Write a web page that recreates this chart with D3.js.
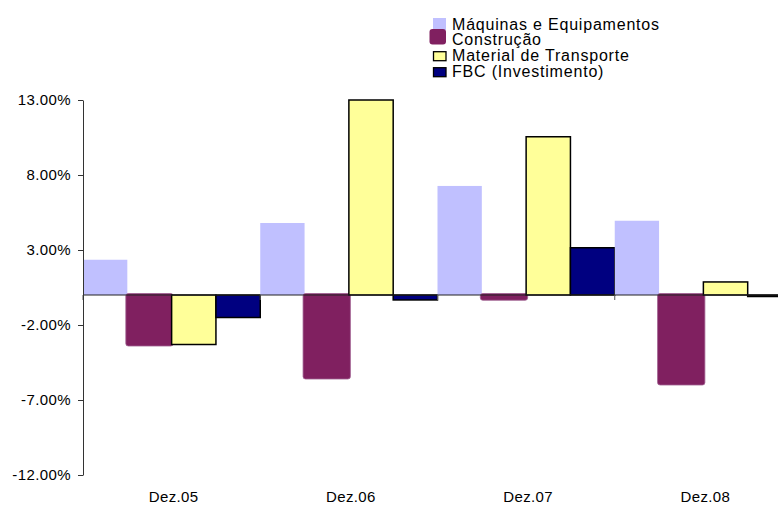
<!DOCTYPE html>
<html><head><meta charset="utf-8">
<script src="https://cdn.jsdelivr.net/npm/d3@7"></script>
<style>
body{margin:0;background:#fff;}
svg{display:block;font-family:"Liberation Sans",Arial,sans-serif;letter-spacing:0.4px;}
</style></head><body>
<svg id="c" width="778" height="505"></svg>
<script>
const categories = ["Dez.05","Dez.06","Dez.07","Dez.08"];
const seriesNames = ["Máquinas e Equipamentos","Construção","Material de Transporte","FBC (Investimento)"];
const maquinas = [2.35, 4.8, 7.27, 4.95];
const construcao = [-3.3, -5.5, -0.25, -5.9];
const material = [-3.3, 13.0, 10.55, 0.87];
const fbc = [-1.5, -0.33, 3.15, -0.1];
const yTicks = [-12, -7, -2, 3, 8, 13];

const seriesValues = [maquinas, construcao, material, fbc];
const colors = ["#C0C0FF", "#802060", "#FFFF99", "#000080"];

const svg = d3.select("#c");
const x0 = d3.scaleBand().domain(categories).range([83, 792]).padding(0);
const x1 = d3.scaleBand().domain(seriesNames).range([0, x0.bandwidth()]).padding(0);
const y = d3.scaleLinear().domain([-12, 13]).range([475, 100]);

// bars
const groups = svg.append("g").selectAll("g").data(categories).join("g")
  .attr("transform", d => `translate(${x0(d)},0)`);
groups.each(function(cat, ci){
  const g = d3.select(this);
  seriesNames.forEach((s, si) => {
    const v = seriesValues[si][ci];
    const top = y(Math.max(0, v)), bot = y(Math.min(0, v));
    const r = g.append("rect")
      .attr("x", x1(s)).attr("width", x1.bandwidth())
      .attr("y", top).attr("height", Math.max(0.5, bot - top))
      .attr("fill", colors[si]);
    if (si === 1) {
      r.attr("x", x1(s) - 1.5).attr("width", x1.bandwidth() + 3)
       .attr("y", top - 1.5).attr("height", bot - top + 3)
       .attr("rx", 2.5).attr("stroke", "#a06090").attr("stroke-width", 0.8);
    } else if (si >= 2) {
      r.attr("stroke", "#000").attr("stroke-width", 1.5);
    }
  });
});

// zero axis line
svg.append("line").attr("x1", 83).attr("x2", 792).attr("y1", y(0)).attr("y2", y(0))
  .attr("stroke", "#222").attr("stroke-width", 1);
// boundary ticks
svg.append("g").selectAll("line").data(d3.range(categories.length + 1)).join("line")
  .attr("x1", i => 83 + i * x0.bandwidth()).attr("x2", i => 83 + i * x0.bandwidth())
  .attr("y1", y(0)).attr("y2", y(0) + 5).attr("stroke", "#555");

// y axis
const yAxis = d3.axisLeft(y).tickValues(yTicks).tickFormat(d => d.toFixed(2) + "%")
  .tickSize(5).tickSizeOuter(0).tickPadding(7);
const ya = svg.append("g").attr("transform", "translate(83,0)").call(yAxis);
ya.select(".domain").attr("stroke", "#333");
ya.selectAll(".tick line").attr("stroke", "#333");
ya.selectAll("text").attr("font-size", 15).attr("font-family", "Liberation Sans, Arial, sans-serif").attr("fill", "#000");

// category labels
svg.append("g").selectAll("text").data(categories).join("text")
  .attr("x", d => x0(d) + x0.bandwidth() / 2 + 2).attr("y", 502)
  .attr("text-anchor", "middle").attr("font-size", 15).text(d => d);

// legend
const legY = [30, 44.5, 60.7, 76.7];
const leg = svg.append("g");
seriesNames.forEach((s, i) => {
  const by = legY[i];
  if (i === 0) leg.append("rect").attr("x", 433).attr("y", by - 12).attr("width", 13).attr("height", 12).attr("fill", colors[0]);
  if (i === 1) leg.append("rect").attr("x", 429.5).attr("y", by - 15.5).attr("width", 16.5).attr("height", 15.5).attr("rx", 3).attr("fill", colors[1]);
  if (i === 2) leg.append("rect").attr("x", 433.5).attr("y", by - 9).attr("width", 12.5).attr("height", 9).attr("fill", colors[2]).attr("stroke", "#000").attr("stroke-width", 1.3);
  if (i === 3) leg.append("rect").attr("x", 433.5).attr("y", by - 9).attr("width", 12.5).attr("height", 9).attr("fill", colors[3]).attr("stroke", "#000").attr("stroke-width", 1.3);
  leg.append("text").attr("x", 452).attr("y", by).attr("font-size", 16).attr("letter-spacing", "0.8px").text(s);
});
</script></body></html>
